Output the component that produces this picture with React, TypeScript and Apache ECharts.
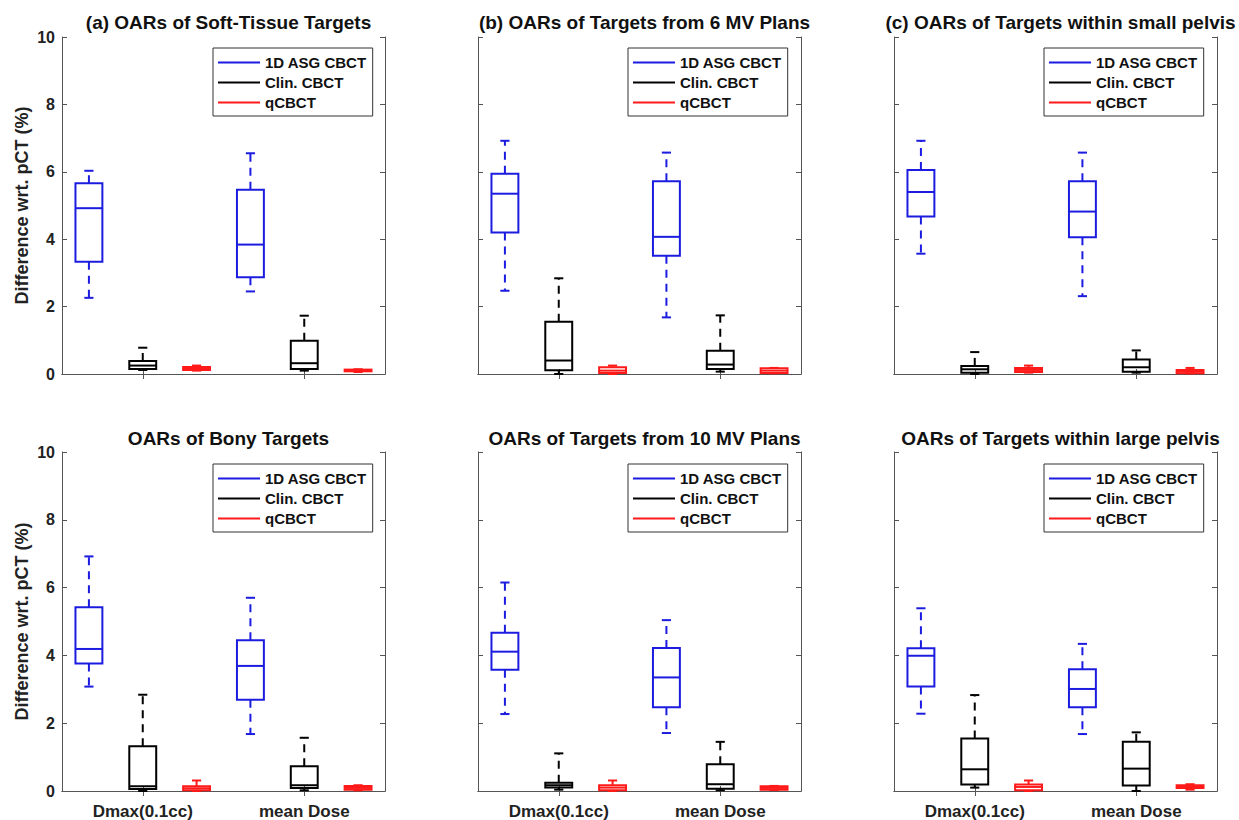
import React, { useEffect, useRef } from 'react';
import * as echarts from 'echarts';

const FONT = '"Liberation Sans", Arial, Helvetica, sans-serif';
const AX = '#555555';

const seriesNames = ['1D ASG CBCT', 'Clin. CBCT', 'qCBCT'];
const seriesColors = ['#1c1ce0', '#000000', '#ff1a1a'];
// six box slots per panel: 1D ASG / Clin. / qCBCT for Dmax, then the same for mean Dose
const slots = ['Dmax 1D ASG', 'Dmax(0.1cc)', 'Dmax qCBCT', 'mean 1D ASG', 'mean Dose', 'mean qCBCT'];
const yName = 'Difference wrt. pCT (%)';
const titles = [
  '(a) OARs of Soft-Tissue Targets',
  '(b) OARs of Targets from 6 MV Plans',
  '(c) OARs of Targets within small pelvis',
  'OARs of Bony Targets',
  'OARs of Targets from 10 MV Plans',
  'OARs of Targets within large pelvis',
];

// each box: [lower whisker, Q1, median, Q3, upper whisker]; first Dmax(0.1cc), then mean Dose
const aBlue = [[2.26, 3.33, 4.92, 5.66, 6.03], [2.45, 2.87, 3.84, 5.47, 6.55]];
const aBlack = [[0.12, 0.15, 0.25, 0.385, 0.78], [0.1, 0.15, 0.32, 0.99, 1.73]];
const aRed = [[0.1, 0.12, 0.16, 0.21, 0.25], [0.06, 0.08, 0.1, 0.13, 0.14]];

const bBlue = [[2.47, 4.2, 5.35, 5.94, 6.92], [1.68, 3.51, 4.07, 5.72, 6.57]];
const bBlack = [[0.0, 0.11, 0.4, 1.55, 2.84], [0.07, 0.15, 0.28, 0.69, 1.74]];
const bRed = [[0.0, 0.03, 0.1, 0.2, 0.25], [0.02, 0.03, 0.1, 0.17, 0.18]];

const cBlue = [[3.57, 4.67, 5.4, 6.05, 6.92], [2.31, 4.06, 4.82, 5.72, 6.57]];
const cBlack = [[0.0, 0.04, 0.14, 0.24, 0.65], [0.04, 0.07, 0.2, 0.43, 0.7]];
const cRed = [[0.04, 0.06, 0.12, 0.18, 0.25], [0.02, 0.02, 0.07, 0.12, 0.18]];

const dBlue = [[3.08, 3.76, 4.19, 5.42, 6.92], [1.68, 2.69, 3.69, 4.45, 5.7]];
const dBlack = [[0.0, 0.06, 0.14, 1.32, 2.84], [0.02, 0.09, 0.17, 0.73, 1.57]];
const dRed = [[0.0, 0.02, 0.08, 0.14, 0.31], [0.02, 0.04, 0.09, 0.15, 0.17]];

const eBlue = [[2.27, 3.58, 4.11, 4.67, 6.15], [1.71, 2.47, 3.35, 4.22, 5.04]];
const eBlack = [[0.04, 0.1, 0.17, 0.24, 1.11], [0.02, 0.07, 0.2, 0.79, 1.45]];
const eRed = [[0.0, 0.02, 0.1, 0.17, 0.31], [0.03, 0.04, 0.09, 0.14, 0.15]];

const fBlue = [[2.28, 3.08, 3.99, 4.21, 5.39], [1.68, 2.47, 3.01, 3.59, 4.34]];
const fBlack = [[0.1, 0.19, 0.64, 1.55, 2.83], [0.0, 0.16, 0.66, 1.45, 1.73]];
const fRed = [[0.0, 0.02, 0.12, 0.19, 0.31], [0.04, 0.09, 0.12, 0.17, 0.2]];

const panelData = [
  [aBlue, aBlack, aRed],
  [bBlue, bBlack, bRed],
  [cBlue, cBlack, cRed],
  [dBlue, dBlack, dRed],
  [eBlue, eBlack, eRed],
  [fBlue, fBlack, fRed],
];

const gridLefts = [62, 478, 894];
const gridTops = [37, 452];
const gridHeights = [337, 339];
const gridWidth = 323;
const titleTops = [8, 424];
const legendLefts = [213, 628, 1044];
const legendTops = [48, 464];

function makeRender(color: string) {
  return (params: any, api: any) => {
    const x = api.value(0);
    const pts = [1, 2, 3, 4, 5].map((i) => api.coord([x, api.value(i)]));
    const cx = pts[0][0];
    const band = api.size([1, 0])[0];
    const hw = band * 0.25;
    const cw = band * 0.085;
    const [lo, q1, md, q3, hi] = pts.map((p: number[]) => p[1]);
    const solid = { stroke: color, lineWidth: 2, fill: 'none' };
    const dashed = { stroke: color, lineWidth: 2, fill: 'none', lineDash: [8, 6] };
    return {
      type: 'group',
      children: [
        { type: 'line', shape: { x1: cx, y1: q3, x2: cx, y2: hi }, style: dashed },
        { type: 'line', shape: { x1: cx, y1: q1, x2: cx, y2: lo }, style: dashed },
        { type: 'line', shape: { x1: cx - cw, y1: hi, x2: cx + cw, y2: hi }, style: solid },
        { type: 'line', shape: { x1: cx - cw, y1: lo, x2: cx + cw, y2: lo }, style: solid },
        { type: 'rect', shape: { x: cx - hw, y: q3, width: 2 * hw, height: q1 - q3 }, style: solid },
        { type: 'line', shape: { x1: cx - hw, y1: md, x2: cx + hw, y2: md }, style: solid },
      ],
    };
  };
}

function buildOption() {
  const grid: any[] = [];
  const xAxis: any[] = [];
  const yAxis: any[] = [];
  const title: any[] = [];
  const legend: any[] = [];
  const series: any[] = [];
  const tickPick = (idx: number) => idx === 1 || idx === 4;

  for (let i = 0; i < 6; i++) {
    const col = i % 3;
    const row = Math.floor(i / 3);
    grid.push({ left: gridLefts[col], top: gridTops[row], width: gridWidth, height: gridHeights[row] });
    const xBase = {
      type: 'category',
      gridIndex: i,
      data: slots,
      boundaryGap: true,
      axisLine: { show: true, lineStyle: { color: AX, width: 1 } },
      axisTick: { show: true, inside: true, length: 5, interval: tickPick, alignWithLabel: true, lineStyle: { color: AX } },
      splitLine: { show: false },
    };
    xAxis.push({
      ...xBase,
      position: 'bottom',
      axisLabel: {
        show: row === 1,
        interval: tickPick,
        fontSize: 17,
        fontWeight: 'bold',
        color: '#222',
        fontFamily: FONT,
        margin: 12,
      },
    });
    xAxis.push({ ...xBase, position: 'top', axisLabel: { show: false } });
    const yBase = {
      type: 'value',
      gridIndex: i,
      min: 0,
      max: 10,
      interval: 2,
      axisLine: { show: true, lineStyle: { color: AX, width: 1 } },
      axisTick: { show: true, inside: true, length: 5, lineStyle: { color: AX } },
      splitLine: { show: false },
    };
    yAxis.push({
      ...yBase,
      position: 'left',
      axisLabel: { show: col === 0, fontSize: 16, fontWeight: 'bold', color: '#222', fontFamily: FONT, margin: 7 },
      name: col === 0 ? yName : '',
      nameLocation: 'middle',
      nameGap: 31,
      nameTextStyle: { fontSize: 18, fontWeight: 'bold', color: '#222', fontFamily: FONT },
    });
    yAxis.push({ ...yBase, position: 'right', axisLabel: { show: false } });

    title.push({
      text: titles[i],
      left: gridLefts[col] + gridWidth / 2,
      top: titleTops[row],
      textAlign: 'center',
      textStyle: { fontSize: 19, fontWeight: 'bold', color: '#111', fontFamily: FONT },
    });
    legend.push({
      left: legendLefts[col],
      top: legendTops[row],
      orient: 'vertical',
      data: seriesNames,
      icon: 'rect',
      itemWidth: 42,
      itemHeight: 2,
      itemGap: 5,
      selectedMode: false,
      borderColor: '#333',
      borderWidth: 1,
      borderRadius: 0,
      backgroundColor: '#fff',
      padding: [7, 6, 6, 5],
      textStyle: { fontSize: 15, fontWeight: 'bold', color: '#111', fontFamily: FONT },
    });

    panelData[i].forEach((boxes, s) => {
      series.push({
        type: 'custom',
        name: seriesNames[s],
        xAxisIndex: 2 * i,
        yAxisIndex: 2 * i,
        itemStyle: { color: seriesColors[s] },
        encode: { x: 0, y: [1, 2, 3, 4, 5] },
        renderItem: makeRender(seriesColors[s]),
        data: boxes.map((b, k) => [s + 3 * k, ...b]),
      });
    });
  }

  return {
    animation: false,
    backgroundColor: '#ffffff',
    color: seriesColors,
    textStyle: { fontFamily: FONT },
    grid,
    xAxis,
    yAxis,
    title,
    legend,
    series,
  };
}

export default function App() {
  const ref = useRef<HTMLDivElement>(null);
  useEffect(() => {
    if (!ref.current) return;
    const chart = echarts.init(ref.current, undefined, { renderer: 'svg' });
    chart.setOption(buildOption() as any);
    return () => chart.dispose();
  }, []);
  return (
    <div
      ref={ref}
      style={{ position: 'fixed', left: 0, top: 0, width: 1239, height: 820, background: '#fff' }}
    />
  );
}
